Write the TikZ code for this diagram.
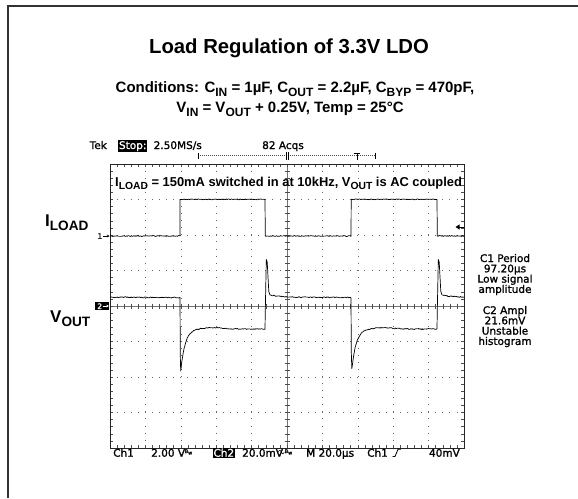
\documentclass[tikz,border=0pt]{standalone}
\usepackage{fontspec}
\setmainfont{Liberation Sans}
\newfontfamily\tekfont[FakeBold=1.3]{DejaVu Sans}
\usetikzlibrary{arrows.meta}
\newcommand\lsub[1]{\raisebox{-0.28em}{\scalebox{0.8}{#1}}}
\begin{document}
\begin{tikzpicture}[x=1pt,y=-1pt,
  frame/.style={line width=2pt,draw=black!80},
  grat/.style={line width=0.7pt,draw=black!85},
  griddot/.style={line width=0.6pt,draw=black!60,dash pattern=on 0.8pt off 6.28pt},
  tick/.style={line width=0.5pt,draw=black!70},
  wave/.style={line width=0.7pt,draw=black,line join=round},
  tek/.style={font=\tekfont\fontsize{10.5}{10.5}\selectfont,inner sep=0pt,text=black},
  inv/.style={fill=black,text=white,inner sep=0.8pt},
  ttl/.style={font=\fontsize{20.3}{20.3}\selectfont\bfseries,inner sep=0pt},
  cond/.style={font=\fontsize{15}{15}\selectfont\bfseries,inner sep=0pt},
  lbl/.style={font=\fontsize{17}{17}\selectfont\bfseries,inner sep=0pt},
  note/.style={font=\fontsize{12.9}{12.9}\selectfont\bfseries,inner sep=0pt}]
\useasboundingbox (0,0) rectangle (578,498);
% outer frame (left and top)
\draw[frame] (8,498) -- (8,6) -- (578,6);
% titles
\node[ttl,anchor=base] (title) at (289,53) {Load Regulation of 3.3V LDO};
\node[cond,anchor=base] (cond1) at (295,92) {Conditions: C\lsub{IN} = 1µF, C\lsub{OUT} = 2.2µF, C\lsub{BYP} = 470pF,};
\node[cond,anchor=base] (cond2) at (290,112) {V\lsub{IN} = V\lsub{OUT} + 0.25V, Temp = 25°C};
% graticule dotted grid
\foreach \i in {1,2,3,4,6,7,8,9}
  \draw[griddot] ({110+35.4*\i},163.6) -- ({110+35.4*\i},448);
\foreach \j in {1,2,3,5,6,7}
  \draw[griddot] (109.6,{164+35.5*\j}) -- (464,{164+35.5*\j});
% center lines with ticks
\draw[line width=0.4pt,draw=black!55] (110,306) -- (464,306);
\draw[line width=0.4pt,draw=black!55] (287,164) -- (287,448);
\foreach \k in {1,...,49} {
  \draw[tick] ({110+7.08*\k},303.5) -- ({110+7.08*\k},308.5);
  \draw[tick] ({110+7.08*\k},164) -- ({110+7.08*\k},167);
  \draw[tick] ({110+7.08*\k},448) -- ({110+7.08*\k},445);
}
\foreach \k in {1,...,39} {
  \draw[tick] (284.5,{164+7.1*\k}) -- (289.5,{164+7.1*\k});
  \draw[tick] (110,{164+7.1*\k}) -- (113,{164+7.1*\k});
  \draw[tick] (464,{164+7.1*\k}) -- (461,{164+7.1*\k});
}
\draw[grat] (110,164) rectangle (464,448);
% header
\node[tek,anchor=base west] (tek) at (89.5,149) {Tek};
\node[tek,inv,anchor=base west] (stop) at (118,149) {Stop:};
\node[tek,anchor=base west] (rate) at (153.5,149) {2.50MS/s};
\node[tek,anchor=base] (acq) at (283,149) {82 Acqs};
\draw[line width=0.5pt,draw=black!70,dash pattern=on 0.7pt off 1.3pt] (198,155.5) -- (375,155.5);
\draw[line width=0.6pt] (198,152.5) -- (198,158.5) (375,152.5) -- (375,158.5);
\draw[line width=0.8pt] (286.3,151.5) -- (286.3,160) (288.7,151.5) -- (288.7,160);
\draw[line width=0.8pt] (353.6,153.3) -- (360.4,153.3) (357,153.3) -- (357,160);
% annotation
\node[note,anchor=base west] (note) at (115,186) {I\lsub{LOAD} = 150mA switched in at 10kHz, V\lsub{OUT} is AC coupled};
% channel labels
\node[lbl,anchor=base west] (iload) at (45,226) {I\lsub{LOAD}};
\node[lbl,anchor=base west] (vout) at (50,322) {V\lsub{OUT}};
% channel markers
\node[tek,font=\tekfont\fontsize{7.5}{7.5}\selectfont,anchor=east] (m1) at (102.5,236) {1};
\draw[line width=0.6pt,-{Stealth[length=2.5pt,width=2.5pt]}] (102.8,236) -- (109.5,236);
\fill[black] (95,302.2) rectangle (109.3,309.8);
\node[tek,font=\tekfont\fontsize{7.5}{7.5}\selectfont,text=white,anchor=east] (m2) at (102.3,306.2) {2};
\draw[line width=0.6pt,white,-{Stealth[length=2.5pt,width=2.5pt]}] (102.6,306) -- (108.8,306);
% trigger level marker
\draw[line width=0.8pt,-{Triangle[length=4pt,width=5pt]}] (464,227) -- (455.5,227);
% waveforms
\pgfmathsetseed{7}
% CH1 (I_LOAD)
\draw[wave] plot[domain=110:180,samples=90] (\x,{236+0.45*rand})
  -- (180,199.3) -- plot[domain=180:265,samples=100] (\x,{199.3+0.4*rand})
  -- (265.3,236) -- plot[domain=265.3:351,samples=100] (\x,{236+0.45*rand})
  -- (351.2,199.3) -- plot[domain=351.2:437,samples=100] (\x,{199.3+0.4*rand})
  -- (437.3,236) -- plot[domain=437.3:464,samples=35] (\x,{236+0.45*rand});
% CH2 (V_OUT)
\draw[wave] plot[domain=110:180,samples=90] (\x,{297.2+0.35*(\x-110)/70+0.5*rand})
  -- (180.3,356) -- (180.7,371)
  -- plot[domain=181:265,samples=110] (\x,{329+40*exp(-(\x-181)/4.3)-1.4*exp(-((\x-212)/14)^2)+0.5*rand})
  -- (265.3,310) -- (266.3,259.5) -- (267.2,262) -- (268.8,291.5) -- (270,295)
  -- plot[domain=270.5:351,samples=100] (\x,{297.4-2.2*exp(-(\x-270.5)/12)+0.5*rand})
  -- (351.3,352) -- (351.8,368.5)
  -- plot[domain=352:437,samples=110] (\x,{329+39*exp(-(\x-352)/4.3)-1.4*exp(-((\x-383)/14)^2)+0.5*rand})
  -- (437.3,310) -- (438.3,259.5) -- (439.2,262) -- (440.8,291.5) -- (442,295)
  -- plot[domain=442.5:464,samples=30] (\x,{297.4-2.2*exp(-(\x-442.5)/12)+0.5*rand});
% right-hand readouts
\foreach \t [count=\n from 0] in {C1 Period,97.20µs,Low signal,amplitude}
  \node[tek,anchor=base] (ra\n) at (505,{262+10.3*\n}) {\t};
\foreach \t [count=\n from 0] in {C2 Ampl,21.6mV,Unstable,histogram}
  \node[tek,anchor=base] (rb\n) at (505,{314+10.3*\n}) {\t};
% bottom status line
\node[tek,anchor=base west] (s1) at (113,456.7) {Ch1};
\node[tek,anchor=base west] (s2) at (151,456.7) {2.00 V};
\node[tek,font=\tekfont\fontsize{5}{5}\selectfont,anchor=base west] (bw1) at (184.5,453) {B\raisebox{-1.5pt}{w}};
\node[tek,inv,anchor=base west] (s3) at (212.5,456.7) {Ch2};
\node[tek,anchor=base west] (s4) at (242,456.7) {20.0mV};
\draw[line width=0.5pt] plot[domain=0:6,samples=20] ({278.3+\x},{452-1.8*sin(\x*60)});
\node[tek,font=\tekfont\fontsize{5}{5}\selectfont,anchor=base west] (bw2) at (284.5,453) {B\raisebox{-1.5pt}{w}};
\node[tek,anchor=base west] (s5) at (306,456.7) {M 20.0µs};
\node[tek,anchor=base west] (s6) at (367,456.7) {Ch1};
\draw[line width=0.8pt] (392.5,456.5) -- (395,456.5) -- (398,449.3) -- (400.8,449.3);
\node[tek,anchor=base east] (s7) at (460,456.7) {40mV};
\end{tikzpicture}
\end{document}
